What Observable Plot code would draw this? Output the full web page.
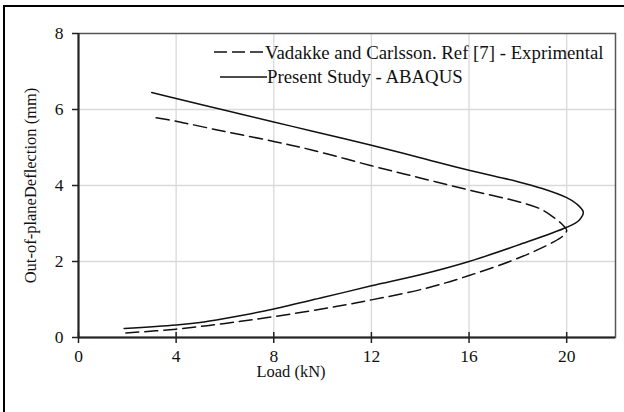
<!DOCTYPE html>
<html>
<head>
<meta charset="utf-8">
<script src="https://cdn.jsdelivr.net/npm/d3@7"></script>
<script src="https://cdn.jsdelivr.net/npm/@observablehq/plot@0.6"></script>
<style>
  html, body { margin: 0; padding: 0; background: #fff; }
  #wrap { position: relative; width: 624px; height: 412px; overflow: hidden; font-family: "Liberation Serif", "Times New Roman", serif; }
  #border { position: absolute; left: 3px; top: 5px; width: 700px; height: 500px; border-left: 2.5px solid #000; border-top: 2.5px solid #000; box-sizing: border-box; }
  #legend { position: absolute; left: 0; top: 0; }
</style>
</head>
<body>
<div id="wrap"><div id="border"></div></div>
<script>
// ---- data ----
const seriesNames = ["Vadakke and Carlsson. Ref [7] - Exprimental", "Present Study - ABAQUS"];

// Experimental (dashed): load (kN) and out-of-plane deflection (mm), along the path
const expLoad = [1.94, 4, 6, 8, 10.6, 12, 14.14, 16, 18.1, 19.45, 19.86, 20.0, 19.86, 19.45, 18.9, 18.1, 16, 14, 12, 9.59, 8, 6, 4, 3.05];
const expDefl = [0.12, 0.22, 0.37, 0.55, 0.82, 0.99, 1.28, 1.63, 2.11, 2.51, 2.68, 2.82, 2.95, 3.17, 3.39, 3.56, 3.88, 4.2, 4.52, 4.93, 5.16, 5.42, 5.69, 5.8];

// ABAQUS (solid)
const abqLoad = [1.87, 4, 5.14, 6.5, 8, 10, 12, 14, 16, 18, 20, 20.5, 20.68, 20.4, 20, 19, 18, 16, 14, 12, 9.59, 8, 6, 4, 3.0];
const abqDefl = [0.24, 0.33, 0.41, 0.56, 0.75, 1.05, 1.36, 1.65, 2.0, 2.43, 2.9, 3.08, 3.3, 3.52, 3.68, 3.92, 4.1, 4.4, 4.73, 5.06, 5.43, 5.67, 5.98, 6.29, 6.45];

const xTicks = [0, 4, 8, 12, 16, 20];
const yTicks = [0, 2, 4, 6, 8];
const xLabel = "Load (kN)";
const yLabel = "Out-of-planeDeflection (mm)";

const expData = expLoad.map((x, i) => ({x, y: expDefl[i]}));
const abqData = abqLoad.map((x, i) => ({x, y: abqDefl[i]}));

const chart = Plot.plot({
  width: 624,
  height: 412,
  marginLeft: 78,
  marginTop: 33,
  marginRight: 9,
  marginBottom: 75,
  x: {domain: [0, 22]},
  y: {domain: [0, 8]},
  style: {fontFamily: "'Liberation Serif', 'Times New Roman', serif", fontSize: "17px", color: "#111", background: "transparent"},
  marks: [
    Plot.gridX(xTicks.filter(d => d > 0), {stroke: "#d9d9d9", strokeOpacity: 1, strokeWidth: 1.3}),
    Plot.gridY(yTicks.filter(d => d > 0 && d < 8), {stroke: "#d9d9d9", strokeOpacity: 1, strokeWidth: 1.3}),
    Plot.frame({stroke: "#555", strokeWidth: 1.5}),
    Plot.line(expData, {x: "x", y: "y", stroke: "#111", strokeWidth: 1.5, strokeDasharray: "13,6", curve: "catmull-rom"}),
    Plot.line(abqData, {x: "x", y: "y", stroke: "#111", strokeWidth: 1.5, curve: "catmull-rom"}),
    Plot.ruleX([0], {stroke: "#222", strokeWidth: 2}),
    Plot.ruleY([0], {stroke: "#222", strokeWidth: 2}),
    Plot.axisX(xTicks, {tickSize: 11, dy: -5, tickFormat: () => "", label: null, stroke: "#222", strokeWidth: 1.5}),
    Plot.axisX(xTicks, {tickSize: 0, tickPadding: 12, label: null, fill: "#111", fontSize: 17.5}),
    Plot.axisY(yTicks, {tickSize: 6, tickPadding: 9, label: null, stroke: "#222", strokeWidth: 1.5, fill: "#111", fontSize: 17.5}),
    Plot.text([xLabel], {frameAnchor: "bottom", dx: -56, dy: 34, fontSize: 16.5, fill: "#111", textAnchor: "middle", lineAnchor: "middle"}),
    Plot.text([yLabel], {frameAnchor: "left", dx: -48, rotate: -90, fontSize: 16.5, fill: "#111", textAnchor: "middle", lineAnchor: "middle"})
  ]
});
chart.style.position = "absolute";
chart.style.left = "0px";
chart.style.top = "0px";
const wrap = document.getElementById("wrap");
wrap.appendChild(chart);

// legend overlay
const ns = "http://www.w3.org/2000/svg";
const leg = document.createElementNS(ns, "svg");
leg.setAttribute("id", "legend");
leg.setAttribute("width", 624);
leg.setAttribute("height", 412);
const legRows = [
  {name: seriesNames[0], dash: "13,5", x1: 214, x2: 263, y: 52, tx: 265, ty: 58.5},
  {name: seriesNames[1], dash: null, x1: 220, x2: 267, y: 77, tx: 267, ty: 83}
];
legRows.forEach(r => {
  const l = document.createElementNS(ns, "line");
  l.setAttribute("x1", r.x1); l.setAttribute("x2", r.x2);
  l.setAttribute("y1", r.y); l.setAttribute("y2", r.y);
  l.setAttribute("stroke", "#111"); l.setAttribute("stroke-width", 1.5);
  if (r.dash) l.setAttribute("stroke-dasharray", r.dash);
  leg.appendChild(l);
  const t = document.createElementNS(ns, "text");
  t.setAttribute("x", r.tx); t.setAttribute("y", r.ty);
  t.setAttribute("font-family", "'Liberation Serif', 'Times New Roman', serif");
  t.setAttribute("font-size", "18.8px");
  t.setAttribute("fill", "#111");
  t.textContent = r.name;
  leg.appendChild(t);
});
wrap.appendChild(leg);
</script>
</body>
</html>
